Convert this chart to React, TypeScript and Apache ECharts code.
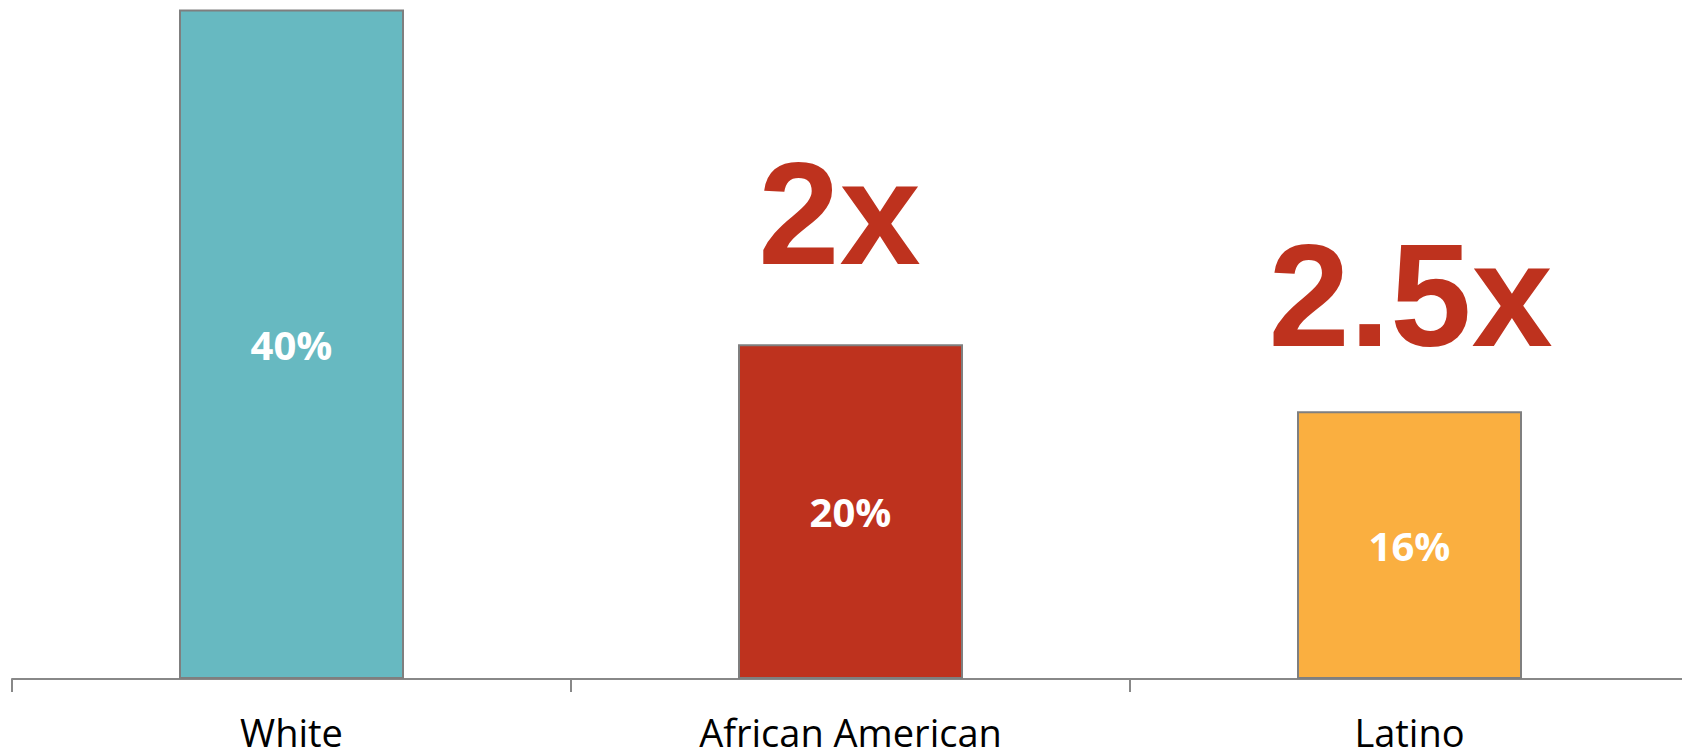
import React, { useEffect, useRef } from "react";
import * as echarts from "echarts";

const categories = ["White", "African American", "Latino"];
const values = [40, 20, 16];
const barColors = ["#67B9C1", "#BE321E", "#FAAF40"];
const annotations = ["", "2x", "2.5x"];
const annotationDistances = [0, 58, 43];
const annotationShifts = [0, -11, 1];

export default function App() {
  const ref = useRef<HTMLDivElement>(null);
  useEffect(() => {
    if (!ref.current) return;
    const chart = echarts.init(ref.current, null, { renderer: "svg" });
    chart.setOption({
      animation: false,
      grid: { left: 12, top: 9.5, width: 1677, height: 670.5, containLabel: false },
      xAxis: {
        type: "category",
        data: categories,
        axisLine: { lineStyle: { color: "#888888", width: 2 } },
        axisTick: { show: true, length: 13, lineStyle: { color: "#888888", width: 2 } },
        axisLabel: {
          color: "#000000",
          fontFamily: "Open Sans",
          fontSize: 38,
          margin: 37,
          lineHeight: 32,
          verticalAlign: "top",
        },
      },
      yAxis: {
        type: "value",
        min: 0,
        max: 40,
        show: false,
        splitLine: { show: false },
      },
      series: [
        {
          type: "bar",
          barWidth: 225,
          data: values.map((v, i) => ({
            value: v,
            itemStyle: { color: barColors[i], borderColor: "#7F7F7F", borderWidth: 2 },
          })),
          label: {
            show: true,
            position: "inside",
            color: "#FFFFFF",
            fontFamily: "Open Sans",
            fontWeight: "bold",
            fontSize: 40,
            formatter: (p: any) => `${p.value}%`,
          },
        },
        {
          type: "bar",
          barWidth: 225,
          barGap: "-100%",
          silent: true,
          itemStyle: { color: "transparent" },
          data: values.map((v, i) => ({
            value: v,
            label: {
              show: annotations[i] !== "",
              position: "top",
              distance: annotationDistances[i],
              offset: [annotationShifts[i], 0],
              formatter: annotations[i],
              color: "#BE321E",
              fontFamily: "Liberation Sans",
              fontWeight: "bold",
              fontSize: 146,
              lineHeight: 146,
            },
          })),
        },
      ],
    });
    return () => chart.dispose();
  }, []);
  return (
    <div style={{ position: "fixed", left: 0, top: 0, width: 1682, height: 751, overflow: "hidden", background: "#ffffff" }}>
      <div ref={ref} style={{ position: "absolute", left: 0, top: 0, width: 1700, height: 751 }} />
    </div>
  );
}
